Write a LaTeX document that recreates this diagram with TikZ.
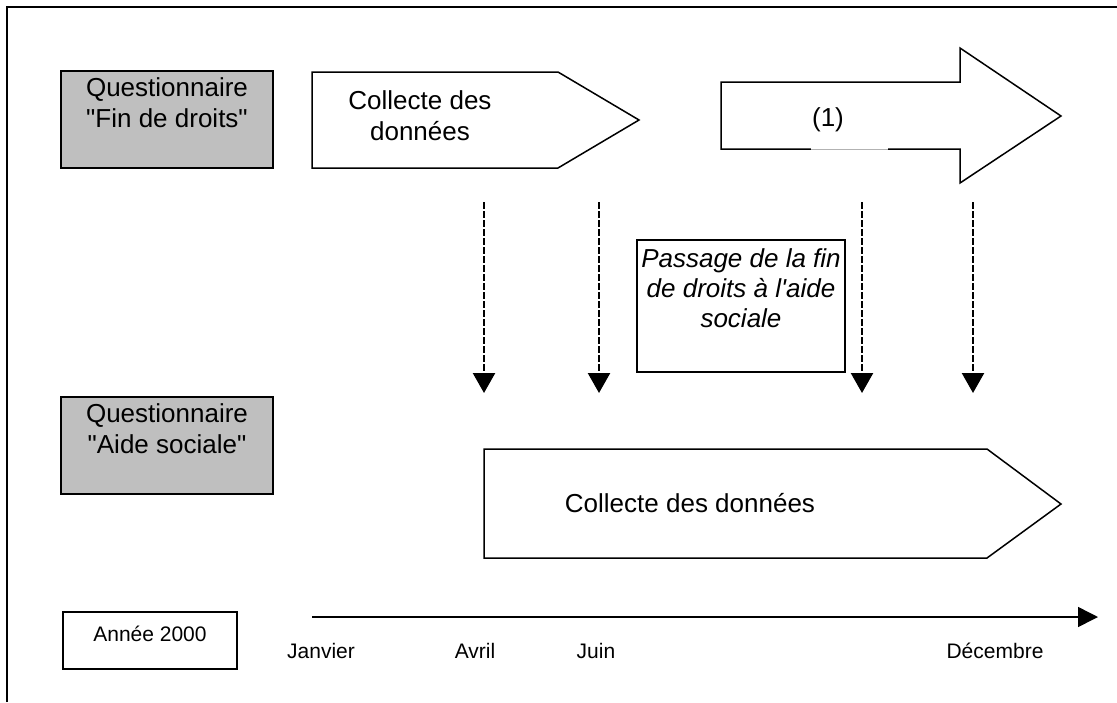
\documentclass[tikz,border=0pt]{standalone}
\usepackage{fontspec}
\newfontfamily\arialfont{Liberation Sans}
\usepackage{tikz}
\usetikzlibrary{arrows.meta}

\begin{document}
\begin{tikzpicture}[x=1pt, y=-1pt, line width=1.5pt,
        every node/.style={font=\arialfont\fontsize{26}{31}\selectfont, inner sep=0pt},
        qbox/.style={rectangle, draw, fill=black!25, minimum width=212pt, minimum height=97pt},
        plainbox/.style={rectangle, draw, fill=white},
        small/.style={font=\arialfont\fontsize{21}{25}\selectfont},
        dasharrow/.style={line width=2.4pt, dash pattern=on 6.5pt off 2.5pt, -{Triangle[width=22pt, length=20pt]}}]
        \useasboundingbox (0,0) rectangle (1117,702);
        \draw[line width=2pt] (7,702) -- (7,7) -- (1117,7);
        % questionnaire fin de droits
        \node[qbox] (finbox) at (167,119.5) {};
        \node[anchor=north, align=center] (fintext) at ([yshift=-7pt]finbox.north) {Questionnaire\\"Fin de droits"};
        \draw[fill=white] (312,72) -- (558,72) -- (639,120) -- (558,168) -- (312,168) -- cycle;
        \node[align=center] (collecte1) at (420,116) {Collecte des\\données};
        \draw[fill=white] (721,82) -- (960,82) -- (960,48) -- (1061,116) -- (960,183) -- (960,149) -- (721,149) -- cycle;
        \draw[white, line width=2pt] (811,149) -- (888,149);
        \draw[black!30, line width=0.8pt] (811,149) -- (888,149);
        \node (un) at (828,120) {(1)};
        % passage
        \node[plainbox, minimum width=208pt, minimum height=132pt] (passbox) at (741,306) {};
        \node[anchor=north, align=center, font=\arialfont\itshape\fontsize{26}{30}\selectfont] (passtext) at ([yshift=-9pt]passbox.north) {Passage de la fin\\de droits à l'aide\\sociale};
        \coordinate (d1s) at (484,202); \coordinate (d1e) at (484,393);
        \coordinate (d2s) at (599,202); \coordinate (d2e) at (599,393);
        \coordinate (d3s) at (862,202); \coordinate (d3e) at (862,393);
        \coordinate (d4s) at (973,202); \coordinate (d4e) at (973,393);
        \draw[dasharrow] (d1s) -- (d1e);
        \draw[dasharrow] (d2s) -- (d2e);
        \draw[dasharrow] (d3s) -- (d3e);
        \draw[dasharrow] (d4s) -- (d4e);
        % questionnaire aide sociale
        \node[qbox] (aidebox) at (167,445.5) {};
        \node[anchor=north, align=center] (aidetext) at ([yshift=-7pt]aidebox.north) {Questionnaire\\"Aide sociale"};
        \draw[fill=white] (484,449) -- (987,449) -- (1061,504) -- (987,558) -- (484,558) -- cycle;
        \node (collecte2) at (690,503) {Collecte des données};
        % axe du temps
        \node[plainbox, minimum width=174pt, minimum height=57pt] (annee) at (150,640.5) {};
        \node[small] (anneetext) at (150,634) {Année 2000};
        \coordinate (t0) at (312,617);
        \coordinate (t1) at (1098,617);
        \draw[-{Triangle[width=20pt, length=20pt]}] (t0) -- (t1);
        \node[small] (janvier) at (321,651) {Janvier};
        \node[small] (avril) at (475,651) {Avril};
        \node[small] (juin) at (596,651) {Juin};
        \node[small] (decembre) at (995,651) {Décembre};
\end{tikzpicture}
\end{document}
